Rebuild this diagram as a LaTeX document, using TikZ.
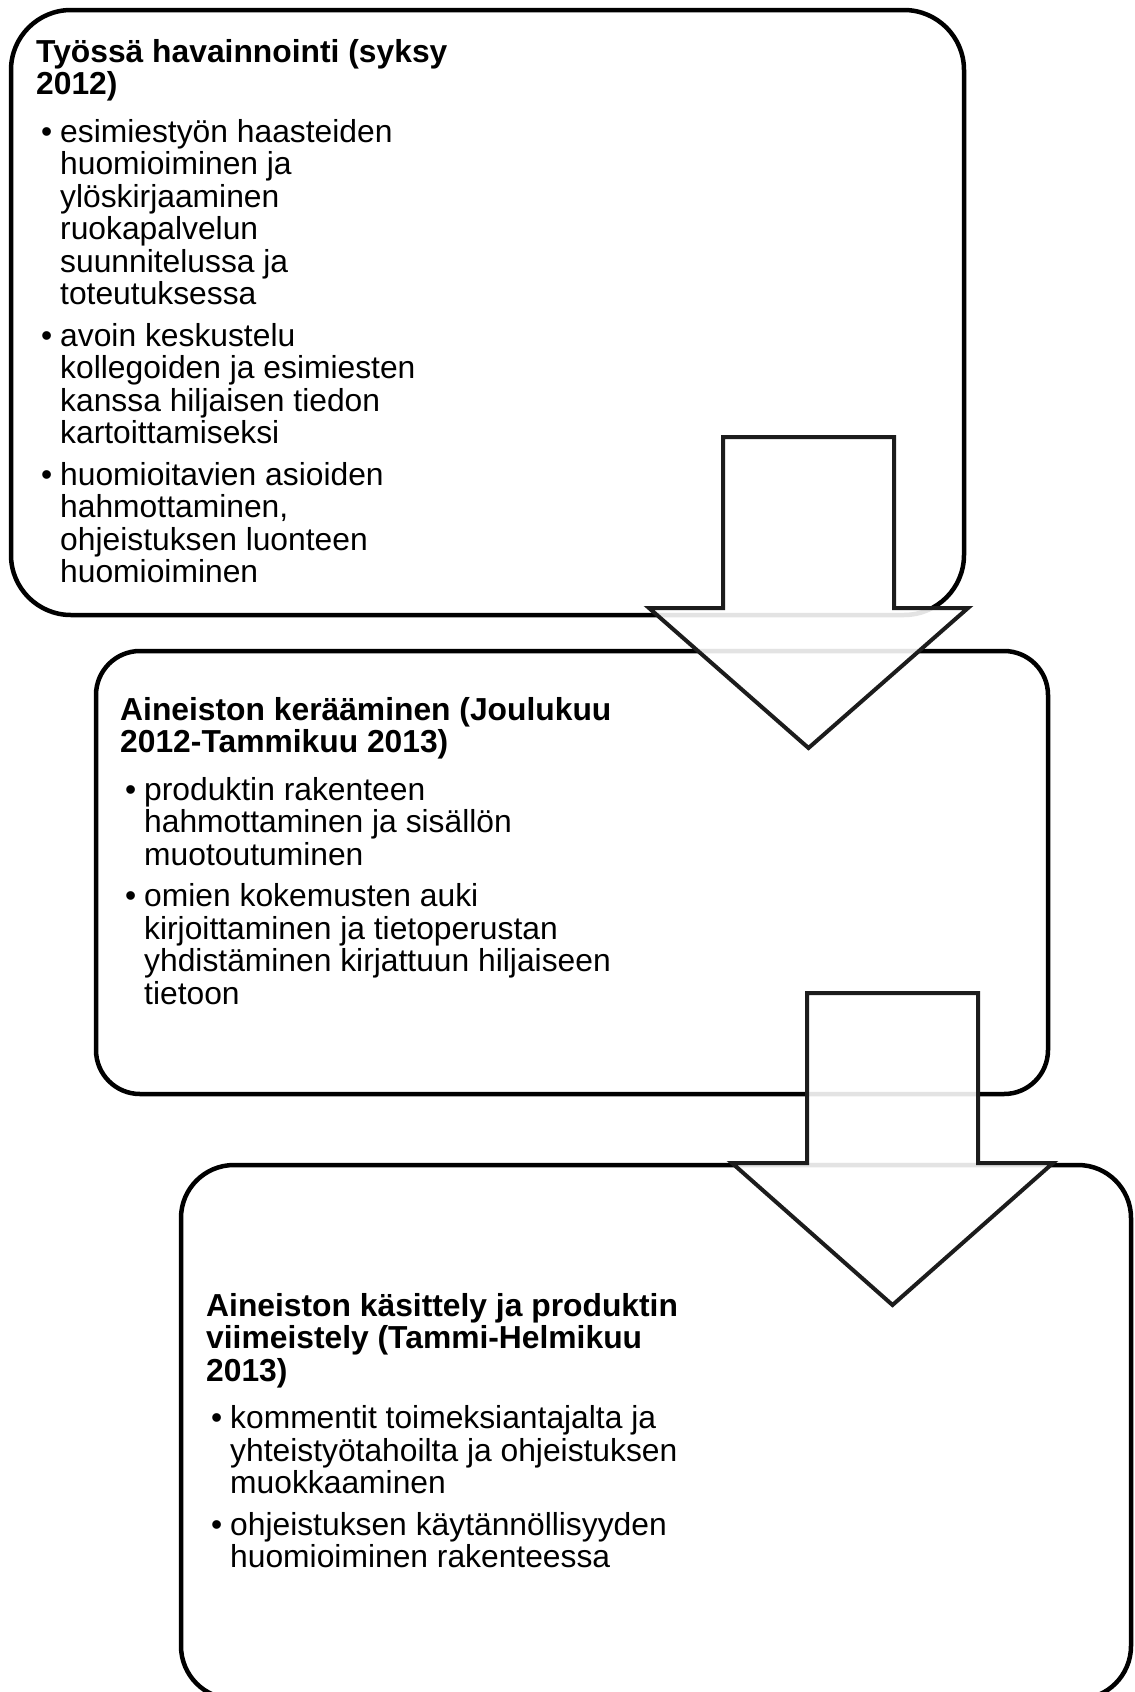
\documentclass[tikz,border=0pt]{standalone}
\usepackage{fontspec}
\setmainfont{Liberation Sans}
\usetikzlibrary{positioning}
\definecolor{vaiheink}{HTML}{000000}
\definecolor{nuoliink}{HTML}{1C1C1C}
\newcommand\kohta[1]{\par\vspace{9pt}\hangindent=24pt\hangafter=1\noindent\makebox[24pt][l]{\hspace{5pt}•}#1}
\tikzset{
  phase/.style={draw=vaiheink, line width=4.5pt, fill=white, rounded corners=#1, inner sep=0pt, outer sep=0pt},
  txt/.style={anchor=base west, inner sep=0pt, font=\fontsize{31.8}{32.5}\selectfont},
  barr/.style={draw=nuoliink, line width=4pt, fill=white, fill opacity=0.89, line join=miter},
}
\begin{document}
\begin{tikzpicture}[x=1pt, y=-1pt]
    \useasboundingbox (0,0) rectangle (1135,1692);
    \node[phase=60pt, minimum width=953pt, minimum height=605pt] (vaihe1) at (487.5,312.5) {};
    \node[phase=44pt, minimum width=952pt, minimum height=443pt, below=36pt of vaihe1, xshift=84.5pt] (vaihe2) {};
    \node[phase=53pt, minimum width=950pt, minimum height=534pt, below=71pt of vaihe2, xshift=84pt] (vaihe3) {};
    \node[txt] (teksti1) at ([shift={(25pt,-52pt)}]vaihe1.north west) {\parbox[t]{640pt}{\lineskiplimit=-100pt
      {\bfseries Työssä havainnointi (syksy\newline 2012)}\par\vspace{6pt}
      \kohta{esimiestyön haasteiden\newline huomioiminen ja\newline ylöskirjaaminen\newline ruokapalvelun\newline suunnitelussa ja\newline toteutuksessa}
      \kohta{avoin keskustelu\newline kollegoiden ja esimiesten\newline kanssa hiljaisen tiedon\newline kartoittamiseksi}
      \kohta{huomioitavien asioiden\newline hahmottaminen,\newline ohjeistuksen luonteen\newline huomioiminen}}};
    \node[txt] (teksti2) at ([shift={(24pt,-69pt)}]vaihe2.north west) {\parbox[t]{640pt}{\lineskiplimit=-100pt
      {\bfseries Aineiston kerääminen (Joulukuu\newline 2012-Tammikuu 2013)}\par\vspace{6pt}
      \kohta{produktin rakenteen\newline hahmottaminen ja sisällön\newline muotoutuminen}
      \kohta{omien kokemusten auki\newline kirjoittaminen ja tietoperustan\newline yhdistäminen kirjattuun hiljaiseen\newline tietoon}}};
    \node[txt] (teksti3) at ([shift={(25pt,-151pt)}]vaihe3.north west) {\parbox[t]{640pt}{\lineskiplimit=-100pt
      {\bfseries Aineiston käsittely ja produktin\newline viimeistely (Tammi-Helmikuu\newline 2013)}\par\vspace{6pt}
      \kohta{kommentit toimeksiantajalta ja\newline yhteistyötahoilta ja ohjeistuksen\newline muokkaaminen}
      \kohta{ohjeistuksen käytännöllisyyden\newline huomioiminen rakenteessa}}};
    \draw[barr] (723,437) -- (894,437) -- (894,608) -- (968,608) -- (808.5,748) -- (649,608) -- (723,608) -- cycle;
    \draw[barr] (807,993) -- (978,993) -- (978,1163) -- (1053,1163) -- (892.5,1305) -- (732,1163) -- (807,1163) -- cycle;
\end{tikzpicture}
\end{document}
